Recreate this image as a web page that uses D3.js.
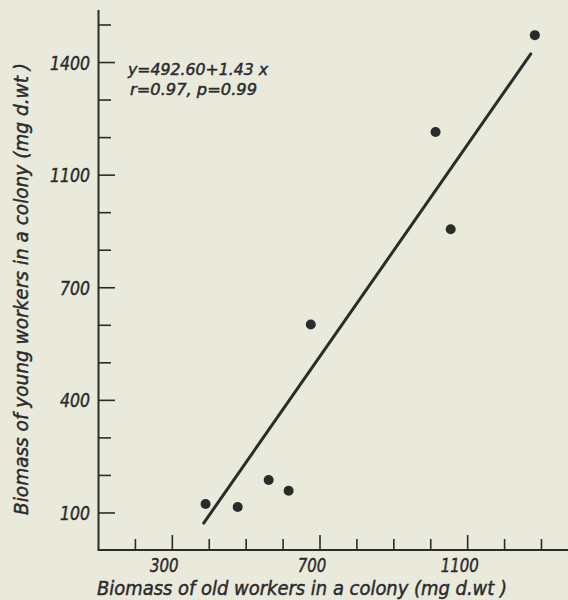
<!DOCTYPE html>
<html>
<head>
<meta charset="utf-8">
<script src="https://cdn.jsdelivr.net/npm/d3@7"></script>
<style>
body { margin:0; background:#e9e9dc; }
text { font-family:"DejaVu Sans Condensed","DejaVu Sans",sans-serif; font-style:oblique; fill:#2b2b2b; stroke:#2b2b2b; stroke-width:0.45px; }
</style>
</head>
<body>
<div id="graph"></div>
<script>
const width = 568
const height = 600
var ink = "#2b2b2b";

// biomass of old workers (x) and young workers (y), mg d.wt
var oldWorkers = [390, 477, 561, 615, 675, 1013, 1054, 1282];
var youngWorkers = [124, 116, 188, 159, 602, 1115, 856, 1373];
// fitted line ends as drawn
var fitX = [385, 1271];
var fitY = [73, 1323];
// ticks and labels as printed
var xTicks = d3.range(200, 1400, 100);
var xLabelTicks = [300, 700, 1100];
var xLabels = ["300", "700", "1100"];
var yTicks = d3.range(100, 1500, 100);
var yLabelTicks = [100, 400, 700, 1000, 1300];
var yLabels = ["100", "400", "700", "1100", "1400"];
var equation = ["y=492.60+1.43 x", "r=0.97, p=0.99"];

var svg = d3.select("div#graph")
	.append("svg")
	.attr("width", width)
	.attr("height", height)

svg.append("rect")
	.attr("width", width)
	.attr("height", height)
	.style("fill", "#e9e9dc")

var x = d3.scaleLinear().domain([100, 1300]).range([98.5, 541.5]);
var y = d3.scaleLinear().domain([0, 1400]).range([550.5, 25]);

// axes lines
svg.append("line")
	.attr("x1", x(100)).attr("x2", width)
	.attr("y1", 550).attr("y2", 550)
	.style("stroke", ink).style("stroke-width", 2)
svg.append("line")
	.attr("x1", x(100)).attr("x2", x(100))
	.attr("y1", 10).attr("y2", 551)
	.style("stroke", ink).style("stroke-width", 2)

// x ticks, inward
svg.selectAll("line.xtick").data(xTicks).enter().append("line")
	.attr("class", "xtick")
	.attr("x1", d => x(d)).attr("x2", d => x(d))
	.attr("y1", 550)
	.attr("y2", d => xLabelTicks.indexOf(d) >= 0 ? 535 : 539)
	.style("stroke", ink).style("stroke-width", 1.6)
svg.selectAll("text.xlab").data(xLabelTicks).enter().append("text")
	.attr("class", "xlab")
	.attr("x", d => x(d) - 8)
	.attr("y", 572)
	.attr("text-anchor", "middle")
	.attr("textLength", (d, i) => xLabels[i].length * 9.5)
	.attr("lengthAdjust", "spacingAndGlyphs")
	.style("font-size", "20px")
	.text((d, i) => xLabels[i])

// y ticks, inward
svg.selectAll("line.ytick").data(yTicks).enter().append("line")
	.attr("class", "ytick")
	.attr("x1", x(100))
	.attr("x2", d => yLabelTicks.indexOf(d) >= 0 ? 115 : 111)
	.attr("y1", d => y(d)).attr("y2", d => y(d))
	.style("stroke", ink).style("stroke-width", 1.6)
svg.selectAll("text.ylab").data(yLabelTicks).enter().append("text")
	.attr("class", "ylab")
	.attr("x", 90)
	.attr("y", d => y(d) + 7)
	.attr("text-anchor", "end")
	.attr("textLength", (d, i) => yLabels[i].length * 10)
	.attr("lengthAdjust", "spacingAndGlyphs")
	.style("font-size", "20px")
	.text((d, i) => yLabels[i])

// regression line
svg.append("line")
	.attr("x1", x(fitX[0])).attr("y1", y(fitY[0]))
	.attr("x2", x(fitX[1])).attr("y2", y(fitY[1]))
	.style("stroke", ink).style("stroke-width", 3)
	.style("stroke-linecap", "round")

// points
svg.selectAll("circle.pt").data(oldWorkers).enter().append("circle")
	.attr("class", "pt")
	.attr("cx", d => x(d))
	.attr("cy", (d, i) => y(youngWorkers[i]))
	.attr("r", 5)
	.style("fill", ink)

// equation
svg.selectAll("text.eq").data(equation).enter().append("text")
	.attr("class", "eq")
	.attr("x", (d, i) => i ? 130 : 128)
	.attr("y", (d, i) => i ? 95 : 75)
	.attr("textLength", (d, i) => i ? 127 : 140)
	.attr("lengthAdjust", "spacingAndGlyphs")
	.style("font-size", "16.5px")
	.text(d => d)

// axis titles
svg.append("text")
	.attr("x", 302)
	.attr("y", 595)
	.attr("text-anchor", "middle")
	.attr("textLength", 410)
	.attr("lengthAdjust", "spacingAndGlyphs")
	.style("font-size", "20px")
	.text("Biomass of old workers in a colony (mg d.wt )")
svg.append("text")
	.attr("transform", "translate(28 289) rotate(-90)")
	.attr("text-anchor", "middle")
	.attr("textLength", 452)
	.attr("lengthAdjust", "spacingAndGlyphs")
	.style("font-size", "20px")
	.text("Biomass of young workers in a colony (mg d.wt )")
</script>
</body>
</html>
